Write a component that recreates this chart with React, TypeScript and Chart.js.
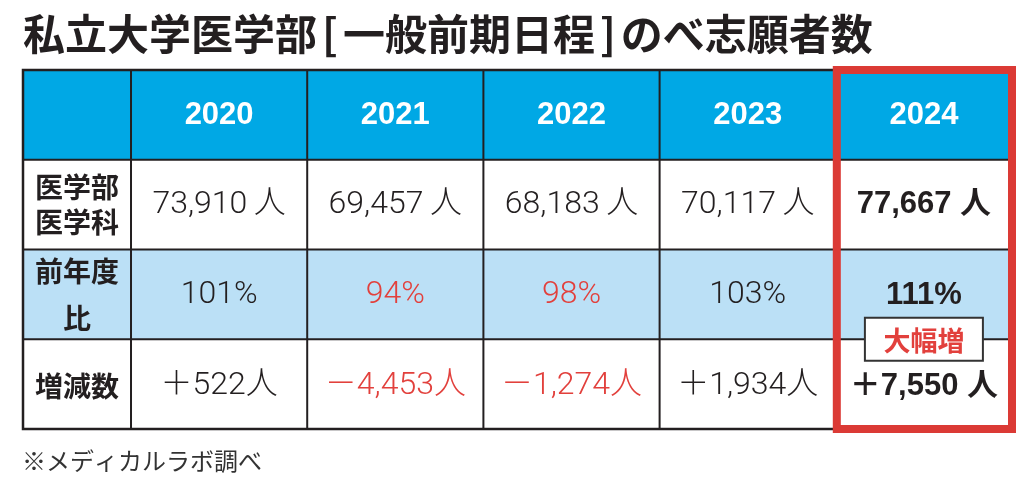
import React, { useEffect, useRef } from "react";
import { Chart, registerables } from "chart.js";

Chart.register(...registerables);

// ---- data ----
const titleParts = ["私立大学医学部", "[", "一般前期日程", "]", "のべ志願者数"];
const years = ["2020", "2021", "2022", "2023", "2024"];
const rowLabels = [["医学部", "医学科"], ["前年度", "比"], ["増減数"]];
const applicants = [73910, 69457, 68183, 70117, 77667];
const ratioPct = [101, 94, 98, 103, 111];
const changeCount = [522, -4453, -1274, 1934, 7550];
const highlightYear = "2024";
const highlightBadge = "大幅増";
const note = "※メディカルラボ調べ";

// ---- layout / style constants ----
const W = 1029;
const H = 484;
const LABEL_COL = 0.613; // label column width, in year-column units
const BLUE = "#00a8e5";
const LIGHT_BLUE = "#bbe0f6";
const RED = "#e2403c";
const BOX_RED = "#db3a35";
const INK = "#231f20";
const CJK = '"Noto Sans CJK JP"';

const fmt = (n: number) => Math.abs(n).toLocaleString("en-US");

const tablePlugin = {
  id: "tablePlugin",
  afterDraw(chart: any) {
    const { ctx, scales } = chart;
    const xs = scales.x;
    const ys = scales.y;
    const X = (v: number) => xs.getPixelForValue(v);
    const Y = (v: number) => ys.getPixelForValue(v);
    const nCols = years.length;
    const nRows = 4;
    const L = X(-LABEL_COL);
    const R = X(nCols);
    const T = Y(0);
    const B = Y(nRows);

    ctx.save();
    // title (brackets drawn narrow with small side gaps)
    ctx.fillStyle = INK;
    ctx.textAlign = "left";
    ctx.textBaseline = "middle";
    ctx.font = `bold 42px ${CJK}`;
    let tx = 23;
    titleParts.forEach((p) => {
      const isBr = p === "[" || p === "]";
      if (isBr) tx += 5;
      ctx.fillText(p, tx, 34);
      tx += ctx.measureText(p).width;
      if (isBr) tx += 5;
    });

    // backgrounds
    ctx.fillStyle = "#ffffff";
    ctx.fillRect(L, T, R - L, B - T);
    ctx.fillStyle = BLUE;
    ctx.fillRect(L, Y(0), R - L, Y(1) - Y(0));
    ctx.fillStyle = LIGHT_BLUE;
    ctx.fillRect(L, Y(2), R - L, Y(3) - Y(2));

    ctx.textAlign = "center";
    ctx.textBaseline = "middle";

    // header years
    ctx.fillStyle = "#ffffff";
    ctx.font = `bold 31px "Liberation Sans", Arial, sans-serif`;
    years.forEach((yr, i) => {
      ctx.fillText(yr, X(i + 0.5), Y(0.5) + 1);
    });

    // row labels
    const lineGap = [35, 47, 0];
    ctx.fillStyle = INK;
    ctx.font = `bold 28px ${CJK}`;
    rowLabels.forEach((lines, r) => {
      const cy = Y(r + 1.5);
      const cx = X(-LABEL_COL / 2);
      if (lines.length === 1) {
        ctx.fillText(lines[0], cx, cy + 2);
      } else {
        ctx.fillText(lines[0], cx, cy - lineGap[r] / 2);
        ctx.fillText(lines[1], cx, cy + lineGap[r] / 2);
      }
    });

    // values
    const regFont = `300 32px Roboto, ${CJK}, sans-serif`;
    const boldFont = `bold 31px "Liberation Sans", Arial, ${CJK}, sans-serif`;
    years.forEach((yr, i) => {
      const hl = yr === highlightYear;
      const cx = X(i + 0.5);
      ctx.font = hl ? boldFont : regFont;
      // applicants
      ctx.fillStyle = INK;
      ctx.fillText(fmt(applicants[i]) + (hl ? " 人" : "\u2009人"), cx, Y(1.5));
      // ratio
      ctx.fillStyle = !hl && ratioPct[i] < 100 ? RED : INK;
      ctx.fillText(ratioPct[i] + "%", cx, Y(2.5) + 1);
      // change
      const c = changeCount[i];
      ctx.fillStyle = !hl && c < 0 ? RED : INK;
      const sign = c >= 0 ? "＋" : "－";
      ctx.fillText(sign + fmt(c) + (hl ? " 人" : "人"), cx, Y(3.5) + 2);
    });

    // grid lines
    ctx.strokeStyle = INK;
    ctx.lineWidth = 2;
    for (let r = 1; r < nRows; r++) {
      ctx.beginPath();
      ctx.moveTo(L, Y(r));
      ctx.lineTo(R, Y(r));
      ctx.stroke();
    }
    for (let c = 0; c < nCols; c++) {
      ctx.beginPath();
      ctx.moveTo(X(c), T);
      ctx.lineTo(X(c), B);
      ctx.stroke();
    }
    ctx.lineWidth = 2.5;
    ctx.strokeRect(L, T, R - L, B - T);

    // highlight box
    const hi = years.indexOf(highlightYear);
    if (hi >= 0) {
      ctx.strokeStyle = BOX_RED;
      ctx.lineWidth = 8;
      const x0 = X(hi) + 1;
      const x1 = X(hi + 1);
      ctx.strokeRect(x0, T, x1 - x0, B - T);

      // badge
      const bx = X(hi + 0.5);
      const by = Y(3);
      const bw = 118;
      const bh = 43;
      ctx.fillStyle = "#ffffff";
      ctx.fillRect(bx - bw / 2, by - bh / 2, bw, bh);
      ctx.strokeStyle = "#333333";
      ctx.lineWidth = 2;
      ctx.strokeRect(bx - bw / 2, by - bh / 2, bw, bh);
      ctx.fillStyle = RED;
      ctx.font = `bold 27px ${CJK}`;
      ctx.fillText(highlightBadge, bx, by + 1);
    }

    // footnote
    ctx.textAlign = "left";
    ctx.fillStyle = "#333333";
    ctx.font = `24px ${CJK}`;
    ctx.fillText(note, 22, 461);
    ctx.restore();
  },
};

export default function App() {
  const canvasRef = useRef<HTMLCanvasElement | null>(null);

  useEffect(() => {
    const canvas = canvasRef.current;
    if (!canvas) return;
    const chart = new Chart(canvas, {
      type: "scatter",
      data: { datasets: [{ data: [] }] },
      options: {
        responsive: false,
        animation: false,
        devicePixelRatio: 1,
        layout: { padding: { left: 23, right: 17, top: 70, bottom: 55 } },
        plugins: {
          legend: { display: false },
          tooltip: { enabled: false },
          title: { display: false },
        },
        scales: {
          x: { type: "linear", min: -LABEL_COL, max: years.length, display: false },
          y: { type: "linear", min: 0, max: 4, reverse: true, display: false },
        },
      },
      plugins: [tablePlugin],
    });
    if ((document as any).fonts && (document as any).fonts.ready) {
      (document as any).fonts.ready.then(() => chart.draw());
    }
    return () => chart.destroy();
  }, []);

  return (
    <div style={{ position: "absolute", left: 0, top: 0, width: W, height: H, background: "#fff" }}>
      <canvas ref={canvasRef} width={W} height={H} style={{ width: W, height: H, display: "block" }} />
    </div>
  );
}
